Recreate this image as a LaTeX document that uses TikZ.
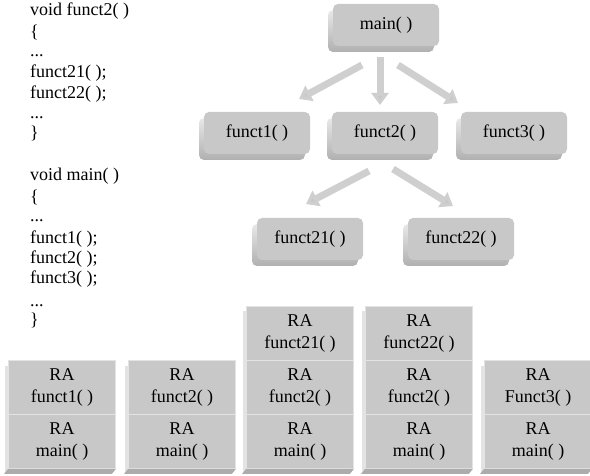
\documentclass[tikz,border=0pt]{standalone}
\usepackage{fontspec}
\setmainfont{Liberation Serif}
\usetikzlibrary{shadows,arrows.meta}
\begin{document}
\begin{tikzpicture}[x=1pt,y=-1pt,
  every node/.style={font=\fontsize{18}{22}\selectfont},
  codeline/.style={anchor=base west, inner sep=0pt},
  fbox/.style={rounded corners=5pt, fill=gray!43, minimum width=106pt, minimum height=42pt, inner sep=0pt,
    general shadow={shadow xshift=-5pt, shadow yshift=-6pt, top color=gray!18, bottom color=gray!62, rounded corners=5pt}},
  cell/.style={draw=gray!22, line width=0.8pt, fill=gray!43, minimum width=107pt, minimum height=54pt, inner sep=0pt, align=center,
    general shadow={shadow xshift=-4pt, shadow yshift=-5pt, fill=gray!22, draw=none}},
  bottombevel/.style={fill=gray!65},
  callarrow/.style={line width=7pt, draw=gray!38, -{Triangle[width=17pt,length=12pt,fill=gray!42]}}
]
\useasboundingbox (0,0) rectangle (590,476);

% code
\node[codeline] (c1) at (30,16) {void funct2( )};
\node[codeline] (c2) at (30,38) {\{};
\node[codeline] (c3) at (30,57) {...};
\node[codeline] (c4) at (30,78) {funct21( );};
\node[codeline] (c5) at (30,99) {funct22( );};
\node[codeline] (c6) at (30,119) {...};
\node[codeline] (c7) at (30,139) {\}};
\node[codeline] (c8) at (30,181) {void main( )};
\node[codeline] (c9) at (30,203) {\{};
\node[codeline] (c10) at (30,222) {...};
\node[codeline] (c11) at (30,244) {funct1( );};
\node[codeline] (c12) at (30,264) {funct2( );};
\node[codeline] (c13) at (30,284) {funct3( );};
\node[codeline] (c14) at (30,306) {...};
\node[codeline] (c15) at (30,326) {\}};

% call tree
\node[fbox] (main) at (386,25) {main( )};
\node[fbox] (f1) at (257,133) {funct1( )};
\node[fbox] (f2) at (385,133) {funct2( )};
\node[fbox] (f3) at (514,133) {funct3( )};
\node[fbox] (f21) at (310,239) {funct21( )};
\node[fbox] (f22) at (461,239) {funct22( )};

\coordinate (a1s) at (362,65);  \coordinate (a1e) at (299,99);
\coordinate (a2s) at (380,57);  \coordinate (a2e) at (380,105);
\coordinate (a3s) at (398,65);  \coordinate (a3e) at (458,103);
\coordinate (b1s) at (369,171); \coordinate (b1e) at (306,204);
\coordinate (b2s) at (393,169); \coordinate (b2e) at (453,206);
\draw[callarrow] (a1s) -- (a1e);
\draw[callarrow] (a2s) -- (a2e);
\draw[callarrow] (a3s) -- (a3e);
\draw[callarrow] (b1s) -- (b1e);
\draw[callarrow] (b2s) -- (b2e);

% stacks
\node[cell] (s1a) at (62,387.5) {RA\\funct1( )};
\node[cell] (s1b) at (62,441.5) {RA\\main( )};
\node[cell] (s2a) at (182,387.5) {RA\\funct2( )};
\node[cell] (s2b) at (182,441.5) {RA\\main( )};
\node[cell] (s3a) at (300,333.5) {RA\\funct21( )};
\node[cell] (s3b) at (300,387.5) {RA\\funct2( )};
\node[cell] (s3c) at (300,441.5) {RA\\main( )};
\node[cell] (s4a) at (419,333.5) {RA\\funct22( )};
\node[cell] (s4b) at (419,387.5) {RA\\funct2( )};
\node[cell] (s4c) at (419,441.5) {RA\\main( )};
\node[cell] (s5a) at (538,387.5) {RA\\Funct3( )};
\node[cell] (s5b) at (538,441.5) {RA\\main( )};

\foreach \s in {s1b,s2b,s3c,s4c,s5b}{
  \fill[bottombevel] (\s.south west) -- ++(-4,5) -- ([xshift=-4pt,yshift=-5pt]\s.south east) -- (\s.south east) -- cycle;
}
\end{tikzpicture}
\end{document}
